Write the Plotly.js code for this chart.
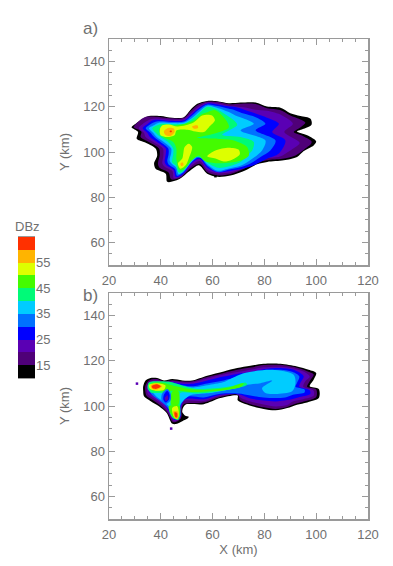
<!DOCTYPE html>
<html>
<head>
<meta charset="utf-8">
<script src="https://cdn.plot.ly/plotly-3.0.1.min.js"></script>
<style>html,body{margin:0;padding:0;background:#fff}</style>
</head>
<body>
<div id="chart" style="width:393px;height:566px"></div>
<script>
// Colour scale (dBZ cell lower bound -> colour)
const cellLevels = [10,15,20,25,30,35,40,45,50,55,60];
const cellColors = ['#000000','#4f0078','#5a00b4','#0000ff','#0070ff','#00ccff','#00fa78','#44fb00','#ddff00','#ffb400','#ff3000'];
const scaleTicks = [15,25,35,45,55];

// Panel a: reflectivity outlines (km), one list per level; null separates regions
const a10 = [[28.7,110.9],[30.3,112.5],[32.9,114.6],[35.4,115.9],[39.9,115.9],[44.4,115.1],[48.9,115.4],[51.5,118.7],[54.1,121.3],[57.9,122.6],[61.8,122.5],[66.3,121.6],[70.8,121.9],[76.6,121.9],[81,120.1],[86.2,119.6],[90,117.2],[93.9,115.9],[97.8,114.7],[98.2,112.1],[95.2,110.3],[92.6,109.1],[96.5,107.4],[100,104.7],[99,102.9],[95.2,100.4],[92.6,97.8],[87.5,96.3],[81.1,95.6],[77.2,94.6],[72.1,91.6],[66.9,89.6],[61.8,89],[57.9,90.4],[54.7,94.1],[51.5,91.9],[47,87.9],[42.5,86.8],[41.9,90.4],[38,92.6],[37.4,94.9],[38.6,98.5],[38,101.5],[33.5,104.4],[30.7,105.9],[31.2,108.8]];
const a15 = [[29.6,110.9],[31.4,113.5],[33.8,115.4],[38,115.6],[44,114.9],[49,115.1],[51.5,118.1],[54.5,121],[58,122.3],[62,122.2],[66,121.2],[71,121.4],[76.6,121.2],[81,119.4],[86,118.6],[90,116.2],[93.5,114.6],[95.8,113],[94,111],[91.3,108.8],[95,107],[98.2,104.7],[98,103.6],[95,100.8],[92,98.5],[87,97],[81,96.4],[77,95.4],[72,92.5],[67,90.3],[62,89.6],[58,91],[55,94.8],[51.5,92.8],[47.5,88.6],[44,87.9],[43,90.9],[39.5,93],[38.9,94.9],[39.6,98.8],[39.3,101.5],[35.4,104.4],[32.2,106.6],[32.5,109]];
const a20 = [[31.5,110.5],[33.5,112.8],[36,114.5],[38,114.8],[44,114.3],[49,114.6],[51.5,117],[54.5,120],[58,121.9],[62,121.5],[66,120.5],[72,119.8],[76.6,118.7],[81,118.2],[86.8,116.2],[91,112.5],[87.7,108.8],[93.6,104],[90,100.7],[86,98],[80,97],[75.3,94.5],[71,92.5],[67,91],[62,90.5],[58,92],[55,96],[51.5,93.6],[47.8,89.2],[45,88.4],[44.5,91.5],[41.5,93.5],[40.6,94.9],[41,98.5],[40.8,101.5],[37.1,104.4],[34.1,106.6],[33.5,108.5]];
const a25 = [[33,110.5],[35,112.5],[37,114],[40,114.2],[44,113.8],[49,114],[51.5,116.3],[54.5,119.3],[58,121.5],[62,121],[66,120.2],[68.8,119.9],[72,118.8],[76.6,117],[81,115.2],[85.6,112.5],[83,108.8],[88.1,105.1],[85.6,99.3],[81,97],[75.9,94.1],[72,92.7],[67,91.7],[62,91],[58,93],[55,97],[51.5,94.6],[48.5,90],[45.8,88.9],[45,92],[42.3,94],[41.5,95.5],[41.9,99],[41.9,101.5],[38.6,104.4],[35.8,106.6],[34.8,108.5]];
const a30 = [[34.2,110.5],[36,112.3],[38,113.4],[40,113.6],[44,113.3],[49,113.5],[51.5,115.6],[54.5,118.6],[58,121],[62,120.3],[66,119.2],[68.8,118.4],[72,117],[76.6,115.4],[80.4,112.5],[76.6,109.6],[84.3,105.1],[82.3,100.7],[78.5,97.8],[74.6,94.9],[70,93],[66,92.2],[62,91.1],[58,93.8],[55,97.7],[52,95.6],[48.6,90.8],[46.3,89.5],[45.5,92.5],[43,94.5],[42.5,96],[43,99],[42.9,101.5],[39.9,104.4],[37.4,106.6],[36,108.5]];
const a35 = [[35.4,110.5],[37.5,112],[39.5,113],[44,112.8],[49,113],[52,115],[55,118],[58,120.5],[62,119.5],[66,117.8],[68.8,116.2],[72,114.8],[75.9,112.5],[70.8,109.5],[80.4,105.1],[79.1,100.7],[75.3,97],[71,94],[66,92.6],[62,91.7],[58,94.5],[55,98.5],[52.5,96.5],[48.5,91.2],[46.8,90.2],[46,93],[44,95],[43.4,96.5],[44,99.5],[44,101.5],[41.2,104.4],[38.4,106.6],[37,108.5]];
const a40 = [[36.7,110.5],[38.5,111.7],[40.5,112.5],[44,112.3],[49,112.5],[52,114.5],[55,117.3],[58,120],[62,118.7],[66,115.8],[68.2,114],[69.5,112],[63.7,107.6],[70.8,106.6],[75.9,104.4],[75.3,100.7],[73.3,98.5],[70.8,95.6],[66,93.6],[62,93],[58,95.2],[55.3,97.5],[52.5,97.5],[50,93.5],[48,91],[46.8,91],[45.8,94],[44.4,95.5],[44.8,99],[44.8,101.5],[42.8,104.4],[39.9,106.6],[38,108.5]];
const a45 = [[39.3,110],[41,111.5],[46,111.7],[50,112.7],[53,114],[56,116.8],[58,117.6],[61,118.5],[64.3,115.4],[66.3,111],[60.5,108.1],[54,106.3],[61.8,105.9],[68.2,105.1],[73.3,102.2],[74,98.5],[71.4,96.5],[66.9,95.3],[61.8,95],[57,96],[54.7,98.5],[52,96.3],[50,93.5],[48.2,92],[47,92.3],[46.3,95],[46,97],[46,101.5],[44.8,104.4],[41.5,106.3],[40,108]];
const a50 = [[39.7,110.3],[40.6,111.8],[43.1,112.2],[46.3,111.3],[49.6,111.8],[52.8,113.2],[56,116.2],[59.8,116.2],[60.9,114],[58.6,111],[56.6,108.8],[53.4,109.1],[50.2,109.9],[46.1,109.6],[45.3,107.4],[42.5,106.6],[39.9,107.4],null,
  [57.9,98.1],[61.1,100.7],[66.3,101.9],[70.1,101],[70.5,99],[67.5,96.6],[64.3,95.8],[61.1,97.1],null,
  [46.6,94.9],[48.3,97.1],[49.2,102.2],[50.8,103.7],[52.1,102.2],[50.8,97.1],[49.6,94.1],[47.6,92.6]];
const a55 = [[41.2,109.1],[43.1,110.7],[45.1,110.3],[45.3,108.8],[43.8,107.1],[41.9,107.4],null,[52.1,111.3],[54.1,111.8],[54.4,110.6],[52.8,110.3],null,[47.6,94.9],[48.5,95.3],[48.7,94.1],[47.9,93.8]];
const a60 = [[43.5,109.4],[44.2,109.4],[44.2,108.8],[43.5,108.8]];

// Panel b outlines
const b10 = [[33.2,108.7],[34.1,111.3],[36,112.4],[38.6,112.4],[41.2,111.3],[44.4,111.9],[48.3,111.3],[52.1,111.3],[57.9,113.4],[64.3,115.3],[69.5,116.8],[74.6,117.8],[79.7,118.7],[86.2,118.7],[92.6,117.5],[97.1,116],[100,114.6],[99,111.6],[97.5,108.7],[101,107.5],[101,103.5],[96.5,101.6],[92.6,100.6],[88.8,99.1],[84.3,98.1],[79.7,98.7],[74.6,100.1],[69.7,102.5],[69.7,104.6],[63,103.5],[56.6,100.8],[49.5,100.6],[48.5,99],[48.3,97.3],[49.3,95.8],[50.8,95.2],[50,94.2],[48.3,93.3],[45.7,92],[44.3,92.3],[42.2,97],[39.3,99.9],[36.1,102.1],[33.5,104.3],[33.2,106.5]];
const b15 = [[34,108.7],[35,110.8],[36.5,111.8],[38.6,111.9],[41.2,110.9],[44.4,111.4],[48.3,110.9],[52.1,110.9],[57.9,112.8],[64.3,114.6],[69.5,116],[74.6,117],[79.7,118.1],[86.2,118.2],[92.6,116.9],[96.5,115.4],[99,114],[97.5,111],[96.5,108.5],[100,107.3],[100,104],[96,102.2],[92.6,101.2],[88.8,99.6],[84.3,98.7],[79.7,99.4],[74.6,100.8],[70.5,102.8],[70,105],[63,104],[56.6,101.5],[49,100.9],[48.2,99.5],[48,97.4],[48,95.5],[47.4,94],[45.5,92.8],[44.5,93],[42.6,97],[40,100],[37,102.5],[34.5,104.5],[34,106.5]];
const b20 = [[34.7,108.7],[35.6,110.5],[37,111.2],[38.6,111.3],[41.2,110.5],[44.4,110.9],[48.3,110.4],[52.1,110.4],[57.9,112.2],[64.3,113.9],[69.5,115],[74.6,116],[79.7,117.1],[86.2,117.4],[91,116.7],[95.5,115],[97.5,113],[95.8,111],[95,108.5],[99,106.8],[99,104.5],[95,103],[91,102],[88.8,100.4],[84.3,99.8],[79.7,100.7],[74.6,102],[71,103.5],[69.5,105.1],[63,104.5],[56.6,102.2],[49,102.3],[48,99.5],[47.8,97.5],[47.8,95.5],[47.1,94.2],[45.5,93.3],[44.7,93.7],[43,97],[40.7,100.5],[37.8,103],[35.2,105],[34.7,106.5]];
const b25 = [[35.3,108.7],[36,110],[37.5,110.7],[41.2,110],[44.4,110.5],[48.3,109.8],[52.1,109.8],[57.9,111.3],[64.3,113],[69.5,114.2],[74.6,115],[79.7,116.3],[86.2,116.8],[91,116.1],[94,114.5],[95.2,113],[94,110.5],[93.5,108.5],[97.5,107],[97.7,105.3],[93,103.8],[88.8,102.6],[84.3,102],[79.7,102.4],[74.6,103.3],[70,105.2],[63,105],[56.6,103],[49.5,103],[47.8,100],[47.6,97.5],[47.6,95.5],[46.9,94.5],[45.5,93.8],[44.9,94.3],[43.4,97.2],[41.2,101],[38.5,103.5],[36,105.5],[35.3,106.7]];
const b30 = [[36,108.7],[36.7,110],[38,110.2],[41,109.5],[44.4,110],[48.3,109.2],[52.1,108.7],[57.9,110],[64.3,111.3],[69.5,112.8],[74.6,114],[79.7,115.5],[86.2,116],[91,115],[93.5,113],[92.5,110],[92,108.5],[95.5,107.3],[95.5,106],[91,105],[88,103.8],[84.3,103.5],[79.7,103.8],[74.6,104.6],[70,105.5],[63,105.4],[56.6,103.8],[50,104],[47.6,100],[47.5,97.5],[47.5,95.5],[46.7,95],[45.5,94.2],[45.1,95],[43.8,97.5],[42.5,99.5],[40,102],[37,104.5],[36,106]];
const b35 = [[36.8,108.7],[37.5,109.8],[41,109],[44.4,109.3],[48.3,108.7],[52,108.2],[58,109.2],[64,110.5],[66.9,112],[72.4,114.6],[83,116],[91.3,113.8],[92,110],[90.7,106.5],[84.3,105.3],[80.4,105.7],[79.1,107.9],[83,111.2],[78.5,110.1],[72.4,109.2],[68,107.7],[60,105.9],[54,105.3],[51,104.5],[47.5,100.5],[47.4,97.5],[47.4,95.7],[46.2,94.5],[45.2,95.3],[44,97.5],[43.3,99.5],[41,102],[38.5,104],[37,106]];
const b40 = [[35.4,110.4],[39.3,110.9],[43.8,110.6],[50,108.5],[54,107.5],[60.5,107.8],[66.9,108.7],[72.7,110.4],[73.3,109.4],[68,107.6],[60.5,106.2],[54,105.5],[47.5,105.7],[47.4,101.3],[47.5,96.2],[46.8,93.9],[44.6,94.7],[43.1,98.7],[44.2,102.8],[43.1,105.4],[39.9,105.7],[36.1,106],[34.9,107.9]];
const b45 = [[36.1,109.9],[39.9,110.4],[45.9,108.7],[51.7,107.4],[59.4,107.2],[66.9,108.4],[72,110.1],[70.8,108.4],[65.6,107.2],[59.4,106.5],[51.7,106.2],[45.9,106.9],[39.9,106.5],[36.1,107.2],null,
  [44.5,106.5],[46.8,106.5],[46.8,100.7],[44,100.7],null,
  [43.1,99.9],[45.7,100.6],[47.3,99.9],[47.3,96.2],[46.6,94.2],[44.8,95],[43.5,97.6]];
const b50 = [[35.4,109.4],[38.6,110.1],[41.8,109.1],[41.2,107.2],[38,106.8],[35.8,107.6],null,[44.4,99.1],[46.3,99.9],[47,96.2],[46.3,94.3],[45.1,95.1]];
const b55 = [[36.1,109.1],[38.6,109.9],[40.5,108.7],[38.6,107.2],[36.7,107.5],null,[44.8,97.6],[46.6,97.6],[46.7,94.7],[45.7,94.4]];
const b60 = [[36.5,108.8],[38.4,109.6],[40,108.7],[38.4,107.6],[36.9,107.8],null,[45.3,97.2],[46.3,96.9],[46.3,94.9],[45.6,95.1]];
// Weak-echo hole inside panel b's western ring
const bHole30 = [[40.5,105.5],[42.5,107.5],[43.8,105.5],[43.8,102.5],[41.9,100.8],[40.3,102.5]];
const bHole25 = [[41.2,105],[42.5,106.8],[43.4,105],[43.1,102.8],[41.9,101.6],[41,102.8]];
const bHole20 = [[41.5,103.5],[42.6,104.8],[42.8,103],[41.9,102.2]];
// Isolated echoes: [x, y, cell level]
const strayA = [[61.1,89.3,10]];
const strayB = [[30.8,109.9,20],[44,90,20]];

const levelsA = [[a10,10],[a15,15],[a20,20],[a25,25],[a30,30],[a35,35],[a40,40],[a45,45],[a50,50],[a55,55],[a60,60]];
const levelsB = [[b10,10],[b15,15],[b20,20],[b25,25],[b30,30],[b35,35],[b40,40],[b45,45],[b50,50],[b55,55],[b60,60],[bHole30,30],[bHole25,25],[bHole20,20]];

function colorOf(level){ return cellColors[cellLevels.indexOf(level)]; }

// close each region and split into x / y
function outline(pts){
  const x=[],y=[]; let first=null;
  pts.forEach(p=>{
    if(p===null){ x.push(first[0],null); y.push(first[1],null); first=null; return; }
    if(!first) first=p;
    x.push(p[0]); y.push(p[1]);
  });
  x.push(first[0]); y.push(first[1]);
  return {x,y};
}
function polyTrace(pts,level,xa,ya){
  const o=outline(pts);
  return {type:'scatter',mode:'lines',x:o.x,y:o.y,xaxis:xa,yaxis:ya,fill:'toself',
    fillcolor:colorOf(level),line:{width:0,color:colorOf(level),shape:'spline',smoothing:0.85},
    hoverinfo:'skip',showlegend:false};
}
function strayTrace(list,xa,ya){
  return {type:'scatter',mode:'markers',x:list.map(s=>s[0]),y:list.map(s=>s[1]),xaxis:xa,yaxis:ya,
    marker:{symbol:'square',size:2.5,color:list.map(s=>colorOf(s[2]))},hoverinfo:'skip',showlegend:false};
}

const traces=[];
levelsA.forEach(l=>traces.push(polyTrace(l[0],l[1],'x','y')));
traces.push(strayTrace(strayA,'x','y'));
levelsB.forEach(l=>traces.push(polyTrace(l[0],l[1],'x2','y2')));
traces.push(strayTrace(strayB,'x2','y2'));
traces.push({type:'bar',x:cellLevels.map(()=>'c'),y:cellLevels.map(()=>5),base:cellLevels,width:1,
  marker:{color:cellColors,line:{width:0}},xaxis:'x3',yaxis:'y3',hoverinfo:'skip',showlegend:false});

const W=393,H=566;
const AX='#9a9a9a', TXT='#707070', FONT='"Liberation Sans", Arial, sans-serif';
function xAxis(anchor,title){
  return {domain:[109/W,368/W],range:[20,120],anchor,tick0:20,dtick:20,ticks:'inside',ticklen:6,tickwidth:1,tickcolor:AX,
    minor:{tick0:20,dtick:5,ticks:'inside',ticklen:3,tickwidth:1,tickcolor:AX,showgrid:false},
    showline:true,linecolor:AX,linewidth:1.5,mirror:'ticks',showgrid:false,zeroline:false,ticklabelstandoff:3,
    tickfont:{family:FONT,size:13,color:TXT},
    title:title?{text:title,font:{family:FONT,size:13,color:TXT},standoff:4}:undefined};
}
function yAxis(anchor,top,bottom){
  return {domain:[1-bottom/H,1-top/H],range:[50,150],anchor,tick0:60,dtick:20,ticks:'inside',ticklen:6,tickwidth:1,tickcolor:AX,
    minor:{tick0:50,dtick:5,ticks:'inside',ticklen:3,tickwidth:1,tickcolor:AX,showgrid:false},
    showline:true,linecolor:AX,linewidth:1.5,mirror:'ticks',showgrid:false,zeroline:false,
    tickfont:{family:FONT,size:13,color:TXT},
    title:{text:'Y (km)',font:{family:FONT,size:13,color:TXT},standoff:10}};
}
const layout={
  width:W,height:H,margin:{l:0,r:0,t:0,b:0},paper_bgcolor:'#fff',plot_bgcolor:'#fff',showlegend:false,bargap:0,
  xaxis:xAxis('y',null),yaxis:yAxis('x',39,265),
  xaxis2:xAxis('y2','X (km)'),yaxis2:yAxis('x2',293,519),
  xaxis3:{domain:[18/W,35/W],anchor:'y3',type:'category',showticklabels:false,ticks:'',showline:true,linecolor:AX,linewidth:1,mirror:true,showgrid:false,zeroline:false},
  yaxis3:{domain:[1-378/H,1-237/H],anchor:'x3',side:'right',range:[10,65],tickmode:'array',tickvals:scaleTicks,ticktext:scaleTicks.map(String),
    ticks:'',showline:false,showgrid:false,zeroline:false,tickfont:{family:FONT,size:13,color:TXT}},
  annotations:[
    {xref:'paper',yref:'paper',x:81/W,y:1-28/H,xanchor:'left',yanchor:'middle',text:'a)',showarrow:false,font:{family:FONT,size:17,color:TXT}},
    {xref:'paper',yref:'paper',x:81/W,y:1-295/H,xanchor:'left',yanchor:'middle',text:'b)',showarrow:false,font:{family:FONT,size:17,color:TXT}},
    {xref:'paper',yref:'paper',x:13/W,y:1-227/H,xanchor:'left',yanchor:'middle',text:'DBz',showarrow:false,font:{family:FONT,size:13,color:TXT}}
  ]
};
Plotly.newPlot('chart',traces,layout,{displayModeBar:false,staticPlot:true});
</script>
</body>
</html>
